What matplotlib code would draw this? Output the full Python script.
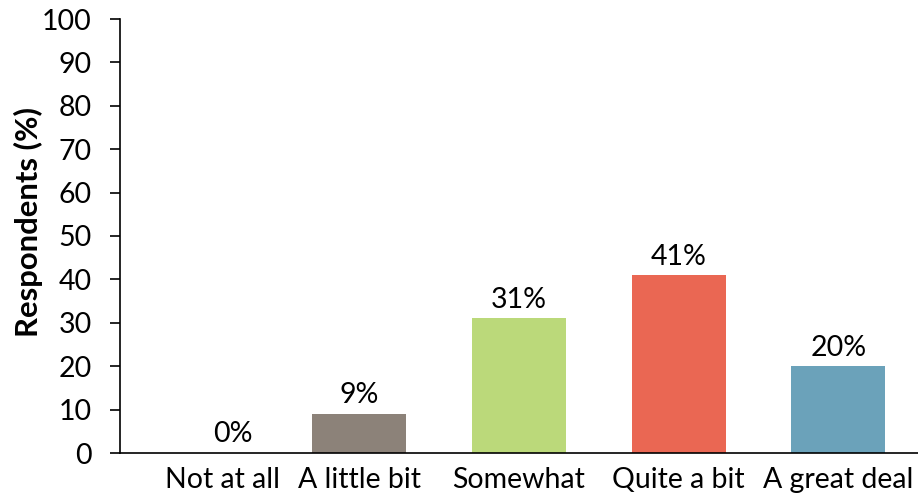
import matplotlib
matplotlib.use('Agg')
from matplotlib import pyplot as plt
from matplotlib import transforms

# =============================================================================
# Data
# =============================================================================
categories = ['Not at all', 'A little bit', 'Somewhat', 'Quite a bit', 'A great deal']
values = [0, 9, 31, 41, 20]
labels = ['0%', '9%', '31%', '41%', '20%']
colors = ['#8C8279', '#8C8279', '#BBD97A', '#EA6753', '#6BA2BA']

plt.rcParams['font.family'] = ['Lato', 'DejaVu Sans']
fs = 20.5

fig = plt.figure(figsize=(9.18, 4.96), dpi=100)
ax = fig.add_axes([120/918, 43/496, 798/918, 434/496])

x = range(len(categories))
bars = ax.bar(x, values, width=0.59, color=colors)

# Data labels (the 0% one sits a bit right, as in the original)
for i, (v, lab) in enumerate(zip(values, labels)):
    dx = 24 if v == 0 else 0
    ax.annotate(lab, (i, v), xytext=(dx, 4), textcoords='offset points',
                ha='center', va='bottom', fontsize=fs)

ax.set_xlim(-0.5, 4.5)
ax.set_ylim(0, 100)
ax.set_yticks(range(0, 101, 10))
ax.set_xticks(list(x))
ax.set_xticklabels(categories, fontsize=fs)
ax.tick_params(axis='x', length=0, pad=10)
ax.tick_params(axis='y', labelsize=fs, length=7.2, width=1.2, pad=13)
ax.set_ylabel('Respondents (%)', fontsize=22.3, fontweight='bold')
ax.yaxis.set_label_coords(-0.097, 0.532)

# first category label is nudged right in the original
lab0 = ax.get_xticklabels()[0]
lab0.set_transform(lab0.get_transform() +
                   transforms.ScaledTranslation(16/72, 0, fig.dpi_scale_trans))

for s in ['top', 'right']:
    ax.spines[s].set_visible(False)
ax.spines['left'].set_linewidth(1.2)
ax.spines['bottom'].set_linewidth(1.2)

plt.savefig('out.png', dpi=100)
